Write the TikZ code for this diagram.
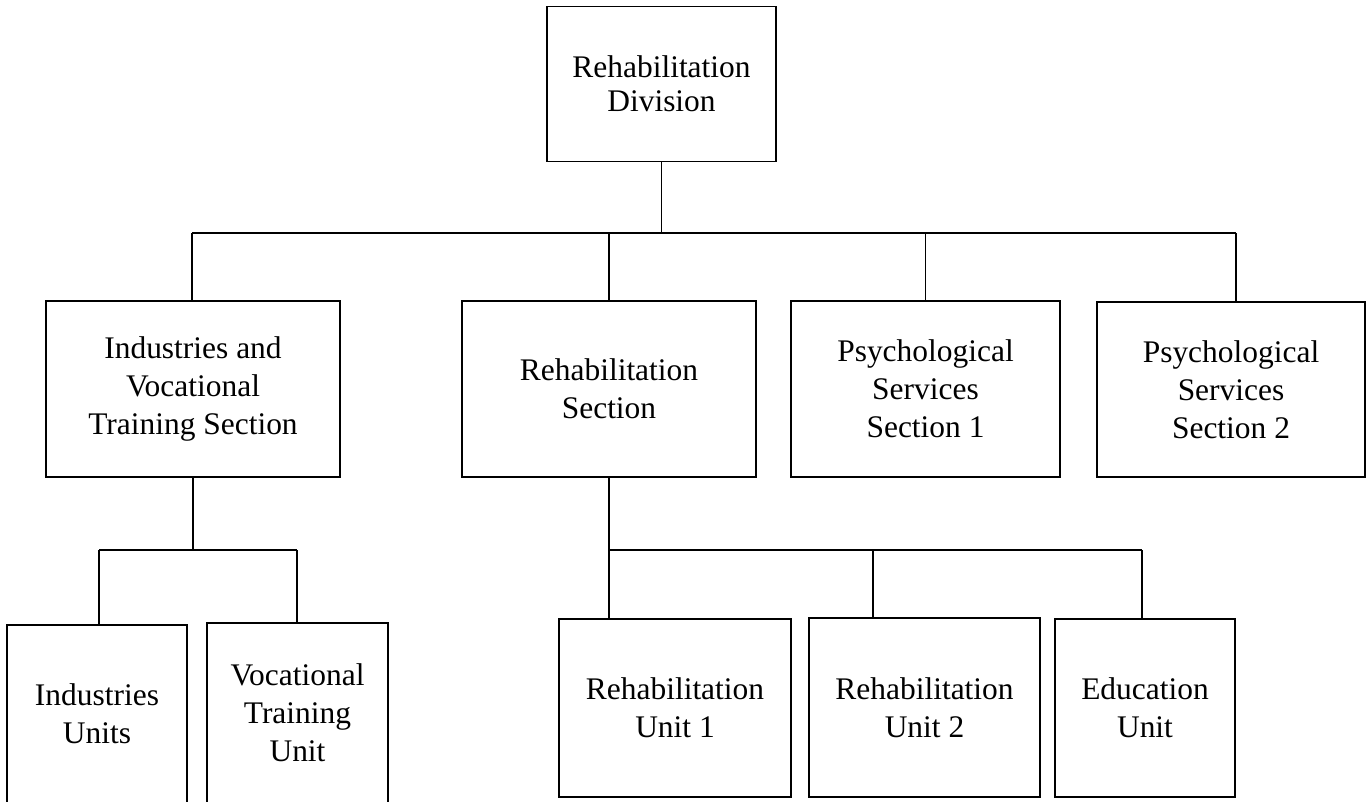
\documentclass[tikz,border=0pt]{standalone}
\usepackage{fontspec}
\setmainfont{Liberation Serif}
\usepackage{tikz}
\usetikzlibrary{positioning, calc}

\begin{document}
\begin{tikzpicture}[
  x=0.02cm, y=-0.02cm,
  unit/.style={rectangle, draw=black, fill=white, line width=1.1pt, inner sep=0pt,
               align=center, font=\fontsize{17.9}{21.6}\selectfont},
  link/.style={line width=1.1pt, color=black}
]
\useasboundingbox (0,0) rectangle (1371,801);

% ── Row 0: division ──────────────────────────────────────────────────────
\node[unit, minimum width=4.58cm, minimum height=3.10cm,
      font=\fontsize{17.9}{19.3}\selectfont] (div) at (661.5, 84)
      {Rehabilitation\\Division};

% ── Row 1: four sections ─────────────────────────────────────────────────
\node[unit, minimum width=5.88cm, minimum height=3.52cm] (ivts) at (193, 389)
      {Industries and\\Vocational\\Training Section};
\node[unit, minimum width=5.88cm, minimum height=3.52cm] (rsec) at (609, 389)
      {Rehabilitation\\Section};
\node[unit, minimum width=5.38cm, minimum height=3.52cm] (pss1) at (925.5, 389)
      {Psychological\\Services\\Section 1};
\node[unit, minimum width=5.36cm, minimum height=3.50cm] (pss2) at (1231, 389.5)
      {Psychological\\Services\\Section 2};

% ── Row 2: units ─────────────────────────────────────────────────────────
\node[unit, minimum width=3.60cm, minimum height=3.56cm] (indu) at (97, 714)
      {Industries\\Units};
\node[unit, minimum width=3.62cm, minimum height=3.60cm] (vtu)  at (297.5, 713)
      {Vocational\\Training\\Unit};
\node[unit, minimum width=4.64cm, minimum height=3.56cm] (ru1)  at (675, 708)
      {Rehabilitation\\Unit 1};
\node[unit, minimum width=4.62cm, minimum height=3.58cm] (ru2)  at (924.5, 707.5)
      {Rehabilitation\\Unit 2};
\node[unit, minimum width=3.60cm, minimum height=3.56cm] (edu)  at (1145, 708)
      {Education\\Unit};

% ── Bus points ───────────────────────────────────────────────────────────
\coordinate (busL) at (192, 233);
\coordinate (busR) at (1236, 233);
\coordinate (lbL)  at (99, 550);
\coordinate (lbR)  at (297, 550);
\coordinate (rbL)  at (609, 550);
\coordinate (rbM)  at (873, 550);
\coordinate (rbR)  at (1142, 550);

% ── Division → sections ──────────────────────────────────────────────────
\draw[link] (div.south) -- (div.south |- busL);
\draw[link] (busL) -- (busR);
\draw[link] (busL) -- (busL |- ivts.north);
\draw[link] (rsec.north |- busL) -- (rsec.north);
\draw[link] (pss1.north |- busL) -- (pss1.north);
\draw[link] (busR) -- (busR |- pss2.north);

% ── Industries section → its units ───────────────────────────────────────
\draw[link] (ivts.south) -- (ivts.south |- lbL);
\draw[link] (lbL) -- (lbR);
\draw[link] (lbL) -- (lbL |- indu.north);
\draw[link] (lbR) -- (lbR |- vtu.north);

% ── Rehabilitation section → its units ───────────────────────────────────
\draw[link] (rsec.south) -- (rbL);
\draw[link] (rbL) -- (rbR);
\draw[link] (rbL) -- (rbL |- ru1.north);
\draw[link] (rbM) -- (rbM |- ru2.north);
\draw[link] (rbR) -- (rbR |- edu.north);

\end{tikzpicture}
\end{document}
